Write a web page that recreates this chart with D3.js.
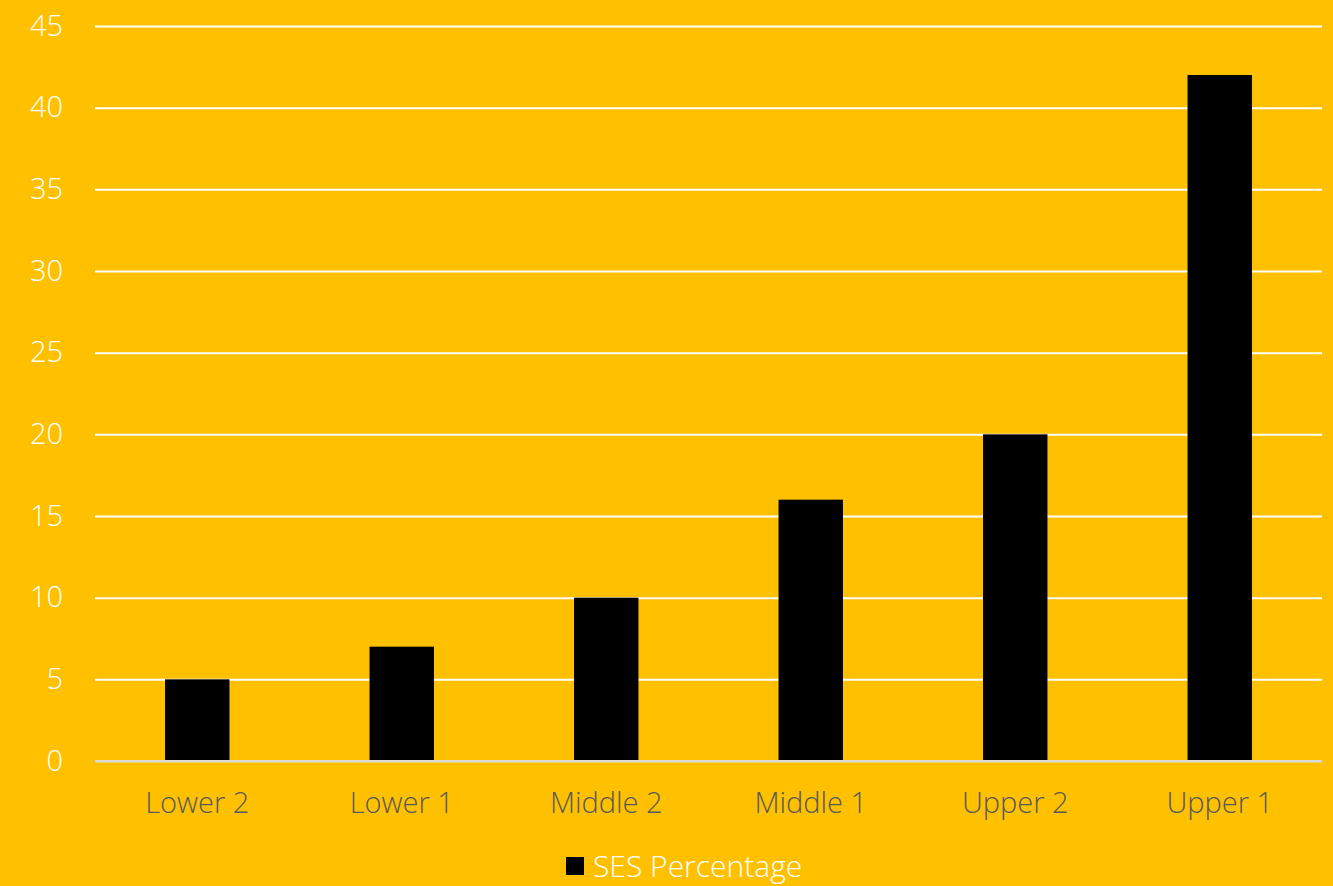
<!DOCTYPE html>
<html>
<head>
<meta charset="utf-8">
<script src="https://cdn.jsdelivr.net/npm/d3@7"></script>
<style>
  html, body { margin: 0; padding: 0; background: #FFC000; }
  svg { display: block; }
  text { font-family: "Open Sans", Lato, sans-serif; font-weight: 300; }
</style>
</head>
<body>
<svg id="chart" width="1333" height="886"></svg>
<script>
// SES distribution by group
const categories = ["Lower 2", "Lower 1", "Middle 2", "Middle 1", "Upper 2", "Upper 1"];
const sesPercentage = [5, 7, 10, 16, 20, 42];
const yTicks = [0, 5, 10, 15, 20, 25, 30, 35, 40, 45];
const seriesName = "SES Percentage";

const W = 1333, H = 886;
const margin = { left: 95, right: 11, top: 26, bottom: 125 };

const svg = d3.select("#chart");
svg.append("rect").attr("width", W).attr("height", H).attr("fill", "#FFC000");

const x = d3.scaleBand()
  .domain(categories)
  .range([margin.left, W - margin.right])
  .paddingInner(0.685)
  .paddingOuter(0.3425);

const y = d3.scaleLinear()
  .domain([0, 45])
  .range([H - margin.bottom, margin.top]);

// horizontal gridlines + y labels
const yAxis = d3.axisLeft(y)
  .tickValues(yTicks)
  .tickSize(-(W - margin.right - margin.left))
  .tickPadding(32);

const gy = svg.append("g")
  .attr("transform", `translate(${margin.left},0)`)
  .call(yAxis);
gy.select(".domain").remove();
gy.selectAll(".tick line")
  .attr("stroke-width", 2)
  .attr("stroke", d => d === 0 ? "#D9D9D9" : "#FFFFFF");
gy.selectAll(".tick text")
  .attr("fill", "#FFFFFF")
  .attr("font-size", 29)
  .attr("font-family", "'Open Sans', Lato, sans-serif")
  .attr("font-weight", 300);

// bars
svg.append("g")
  .selectAll("rect")
  .data(categories.map((c, i) => ({ c, v: sesPercentage[i] })))
  .join("rect")
  .attr("x", d => x(d.c))
  .attr("y", d => y(d.v))
  .attr("width", x.bandwidth())
  .attr("height", d => y(0) - y(d.v))
  .attr("fill", "#000000");

// redraw baseline over bars
svg.append("line")
  .attr("x1", margin.left).attr("x2", W - margin.right)
  .attr("y1", y(0)).attr("y2", y(0))
  .attr("stroke", "#D9D9D9").attr("stroke-width", 2);

// category labels
const xAxis = d3.axisBottom(x).tickSize(0).tickPadding(31);
const gx = svg.append("g")
  .attr("transform", `translate(0,${y(0)})`)
  .call(xAxis);
gx.select(".domain").remove();
gx.selectAll(".tick text")
  .attr("fill", "#595959")
  .attr("font-size", 29)
  .attr("font-family", "'Open Sans', Lato, sans-serif")
  .attr("font-weight", 300);

// legend
const legend = svg.append("g").attr("transform", "translate(566,857)");
legend.append("rect").attr("width", 18).attr("height", 18).attr("fill", "#000000");
legend.append("text")
  .attr("x", 27).attr("y", 9)
  .attr("dy", "0.36em")
  .attr("fill", "#FFFFFF")
  .attr("font-size", 30)
  .text(seriesName);
</script>
</body>
</html>
